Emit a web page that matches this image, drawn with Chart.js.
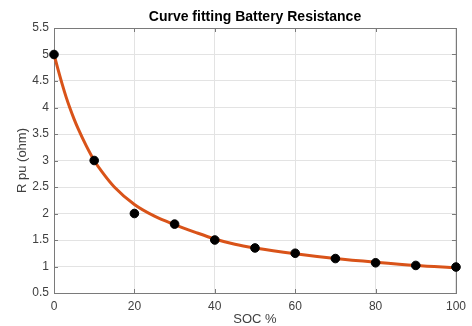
<!DOCTYPE html>
<html>
<head>
<meta charset="utf-8">
<script src="https://cdn.jsdelivr.net/npm/chart.js@4.4.1/dist/chart.umd.min.js"></script>
<style>
  html, body { margin: 0; padding: 0; background: #fff; }
  #wrap { width: 472px; height: 326px; position: relative; }
</style>
</head>
<body>
<div id="wrap"><canvas id="c" width="472" height="326"></canvas></div>
<script>
/* ── Data ───────────────────────────────────────────── */
// measured points
const socPoints = [0, 10, 20, 30, 40, 50, 60, 70, 80, 90, 100];
const rPoints   = [5.0, 3.0, 2.0, 1.8, 1.5, 1.35, 1.25, 1.15, 1.07, 1.02, 0.99];

// fitted curve
const fitSoc = [0, 1, 2, 3, 4, 5, 6, 8, 10, 12, 15, 20, 25, 30, 35, 40, 45, 50, 60, 70, 80, 90, 100];
const fitR   = [5.0, 4.72, 4.45, 4.2, 3.98, 3.78, 3.6, 3.28, 3.0, 2.78, 2.5, 2.17, 1.95, 1.79, 1.65, 1.52, 1.42, 1.35, 1.24, 1.15, 1.08, 1.02, 0.98];

const xTicks = [0, 20, 40, 60, 80, 100];
const yTicks = [0.5, 1, 1.5, 2, 2.5, 3, 3.5, 4, 4.5, 5, 5.5];

const TITLE = 'Curve fitting Battery Resistance';
const FONT = "'Liberation Sans', Arial, Helvetica, sans-serif";
const AXIS = '#7a7a7a';
const TXT  = '#404040';

/* ── Box, inward ticks and title over the axes ──────── */
const boxPlugin = {
  id: 'box',
  beforeDatasetsDraw(chart) {
    const {ctx, chartArea: a, scales: {x, y}} = chart;
    ctx.save();
    ctx.strokeStyle = AXIS;
    ctx.lineWidth = 1;
    ctx.beginPath();
    xTicks.forEach(v => {
      const px = Math.round(x.getPixelForValue(v)) + 0.5;
      ctx.moveTo(px, a.bottom); ctx.lineTo(px, a.bottom - 4);
      ctx.moveTo(px, a.top);    ctx.lineTo(px, a.top + 4);
    });
    yTicks.forEach(v => {
      const py = Math.round(y.getPixelForValue(v)) + 0.5;
      ctx.moveTo(a.left, py);  ctx.lineTo(a.left + 4, py);
      ctx.moveTo(a.right, py); ctx.lineTo(a.right - 4, py);
    });
    ctx.stroke();
    ctx.strokeRect(Math.round(a.left) + 0.5, Math.round(a.top) + 0.5,
                   Math.round(a.right - a.left), Math.round(a.bottom - a.top));

    // title centred on the plot box, like MATLAB
    ctx.fillStyle = '#000';
    ctx.font = `bold 14px ${FONT}`;
    ctx.textAlign = 'center';
    ctx.textBaseline = 'middle';
    ctx.fillText(TITLE, (a.left + a.right) / 2, 17);
    ctx.restore();
  }
};

new Chart(document.getElementById('c'), {
  type: 'scatter',
  data: {
    datasets: [
      {
        label: 'data',
        data: socPoints.map((s, i) => ({x: s, y: rPoints[i]})),
        backgroundColor: '#000',
        borderColor: '#000',
        pointRadius: 4.3,
        pointHoverRadius: 4.3,
        clip: false,
      },
      {
        label: 'fit',
        data: fitSoc.map((s, i) => ({x: s, y: fitR[i]})),
        showLine: true,
        borderColor: '#d95319',
        borderWidth: 3,
        pointRadius: 0,
        cubicInterpolationMode: 'monotone',
        clip: false,
      },
    ],
  },
  options: {
    responsive: false,
    animation: false,
    events: [],
    layout: { padding: { left: 0, right: 11, top: 28, bottom: 0 } },
    plugins: {
      legend: { display: false },
      tooltip: { enabled: false },
      title: { display: false },
    },
    scales: {
      x: {
        type: 'linear',
        min: 0, max: 100,
        afterBuildTicks: s => { s.ticks = xTicks.map(v => ({value: v})); },
        afterFit: s => { s.height = 33; },
        grid: { color: '#e3e3e3', drawTicks: false },
        border: { display: false },
        ticks: { color: TXT, font: { family: FONT, size: 12 }, padding: 6, maxRotation: 0,
                 callback: v => String(v) },
        title: {
          display: true, text: 'SOC %', color: TXT,
          font: { family: FONT, size: 13, lineHeight: 1 },
          padding: { top: 0, bottom: 0 },
        },
      },
      y: {
        type: 'linear',
        min: 0.5, max: 5.5,
        afterBuildTicks: s => { s.ticks = yTicks.map(v => ({value: v})); },
        afterFit: s => { s.width = 54; },
        grid: { color: '#e3e3e3', drawTicks: false },
        border: { display: false },
        ticks: { color: TXT, font: { family: FONT, size: 12 }, padding: 5,
                 callback: v => String(v) },
        title: {
          display: true, text: 'R pu (ohm)', color: TXT,
          font: { family: FONT, size: 13 },
          padding: { top: 15, bottom: 0 },
        },
      },
    },
  },
  plugins: [boxPlugin],
});
</script>
</body>
</html>
